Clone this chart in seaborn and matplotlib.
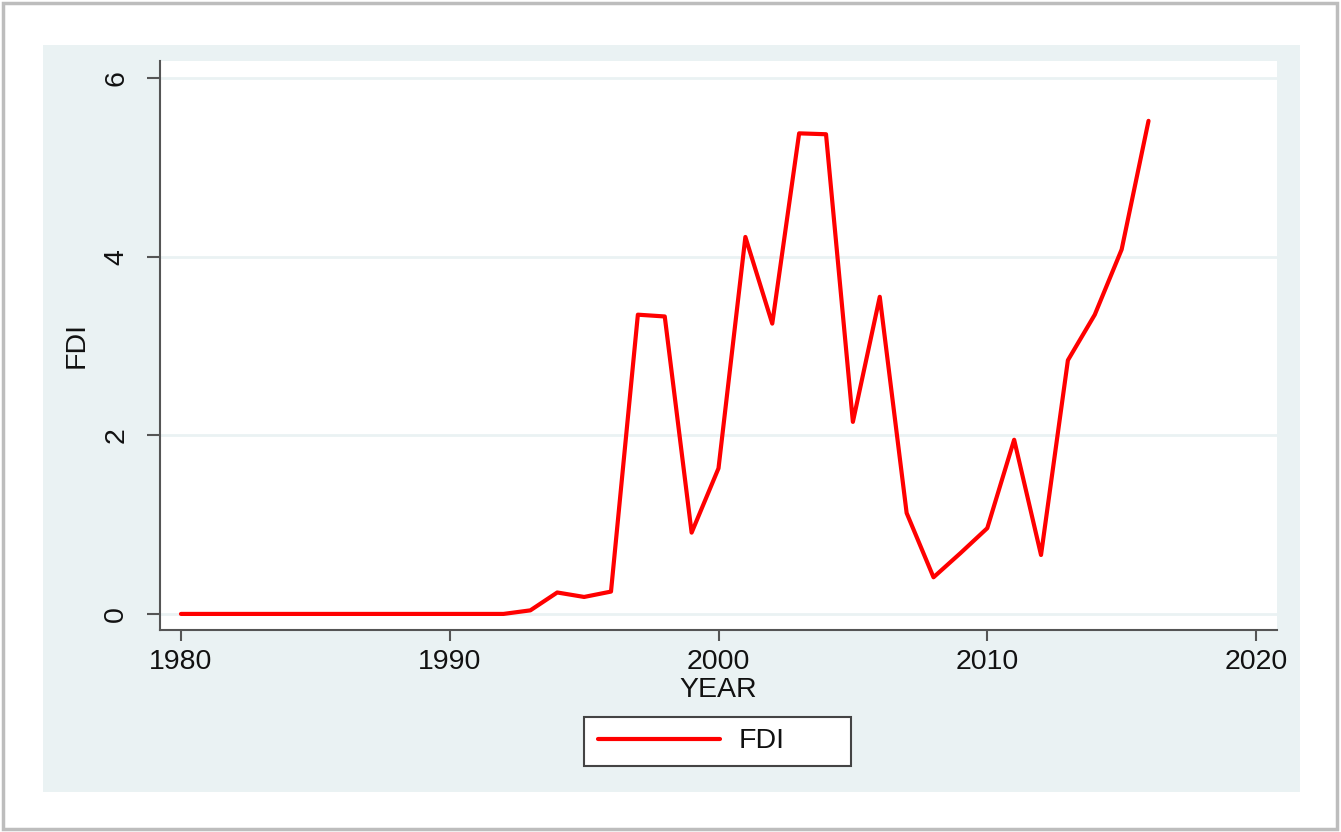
import matplotlib
matplotlib.use("Agg")
import matplotlib.pyplot as plt
import seaborn as sns
import pandas as pd
from matplotlib.patches import Rectangle

years = list(range(1980, 2017))
fdi = [0.0, 0.0, 0.0, 0.0, 0.0, 0.0, 0.0, 0.0, 0.0, 0.0,
       0.0, 0.0, 0.0, 0.04, 0.24, 0.19, 0.25, 3.35, 3.33, 0.91,
       1.63, 4.22, 3.25, 5.38, 5.37, 2.15, 3.55, 1.13, 0.41, 0.68,
       0.96, 1.95, 0.66, 2.84, 3.35, 4.08, 5.52]
x_ticks = [1980, 1990, 2000, 2010, 2020]
y_ticks = [0, 2, 4, 6]

df = pd.DataFrame({"YEAR": years, "FDI": fdi})

sns.set_theme(style="white")
plt.rcParams["font.family"] = ["Liberation Sans", "DejaVu Sans"]

W, H = 1341, 832
fig = plt.figure(figsize=(W / 100, H / 100), dpi=100)
fig.patch.set_facecolor("white")

panel_col = "#EAF2F3"
# outer frame
fig.patches.append(Rectangle((3 / W, 3 / H), 1334 / W, 826 / H, transform=fig.transFigure,
                             facecolor="none", edgecolor="#bdbdbd", linewidth=2.5, zorder=-10))
# light blue panel
fig.patches.append(Rectangle((43 / W, (H - 792) / H), (1300 - 43) / W, (792 - 45) / H,
                             transform=fig.transFigure, facecolor=panel_col,
                             edgecolor="none", zorder=-9))
# legend box
fig.patches.append(Rectangle((584 / W, (H - 766) / H), (851 - 584) / W, (766 - 717) / H,
                             transform=fig.transFigure, facecolor="white",
                             edgecolor="#444444", linewidth=1.5, zorder=-8))

ax = fig.add_axes([160 / W, (H - 630) / H, (1277 - 160) / W, (630 - 61) / H])
ax.set_facecolor("white")

sns.lineplot(data=df, x="YEAR", y="FDI", ax=ax, color="#ff0000", linewidth=3.0, label="FDI",
             legend=False)

ax.set_xlim(1979.22, 2020.78)
ax.set_ylim(-0.18, 6.19)
ax.set_xticks(x_ticks)
ax.set_yticks(y_ticks)
ax.set_xticklabels([str(v) for v in x_ticks])
ax.set_yticklabels([str(v) for v in y_ticks])

for y in y_ticks:
    ax.axhline(y, color=panel_col, linewidth=2, zorder=0)

for s in ["top", "right"]:
    ax.spines[s].set_visible(False)
for s in ["left", "bottom"]:
    ax.spines[s].set_color("#555555")
    ax.spines[s].set_linewidth(1.5)

ax.tick_params(axis="both", direction="out", width=1.5, color="#555555",
               labelsize=20.5, labelcolor="#111111", left=True, bottom=True)
ax.tick_params(axis="x", pad=6, length=8)
ax.tick_params(axis="y", pad=22, length=9.5)
for lab in ax.get_yticklabels():
    lab.set_rotation(90)
    lab.set_va("center")
    lab.set_ha("center")

ax.set_xlabel("YEAR", fontsize=20.5, color="#111111", labelpad=1)
ax.set_ylabel("FDI", fontsize=20.5, color="#111111", labelpad=10)

handles = ax.get_lines()[:1]
leg = fig.legend(handles, ["FDI"], loc="center left",
                 bbox_to_anchor=(598 / W, (H - 741.5) / H),
                 frameon=False, fontsize=20.5, handlelength=4.3,
                 handletextpad=0.65, borderpad=0, borderaxespad=0)
for t in leg.get_texts():
    t.set_color("#111111")

fig.savefig("out.png", dpi=100, facecolor="white")
